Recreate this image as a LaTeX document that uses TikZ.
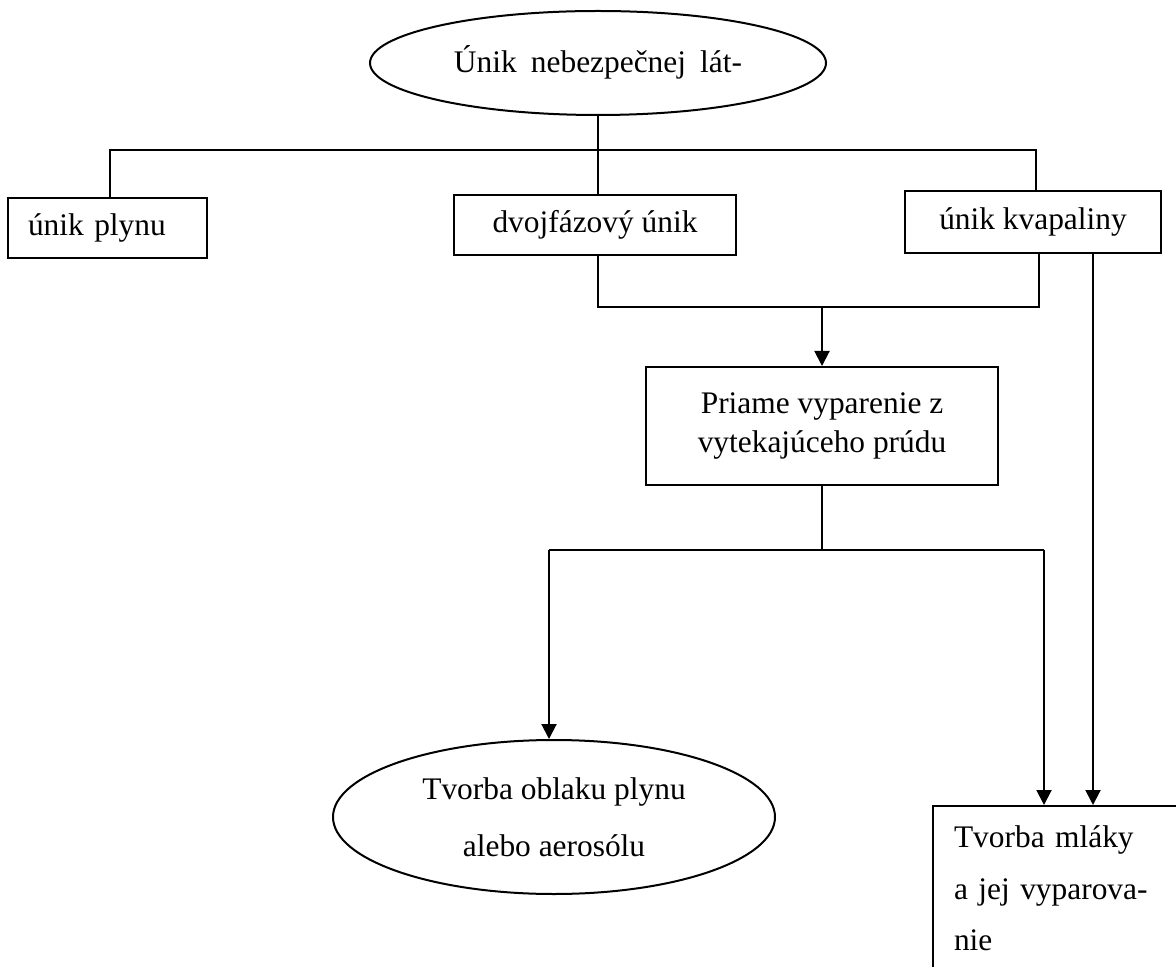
\documentclass[tikz,border=0pt]{standalone}
\usepackage{fontspec}
\setmainfont{Liberation Serif}
\usetikzlibrary{shapes.geometric,arrows.meta}

\newcommand\diafont[1]{\fontsize{15.7pt}{#1}\selectfont}

\tikzset{
  box/.style={draw, rectangle, line width=1pt, inner sep=0pt, align=center,
    font=\diafont{21pt}},
  oval/.style={draw, ellipse, line width=1pt, inner sep=-40pt, align=center,
    font=\diafont{21pt}},
  conn/.style={line width=1pt},
  arr/.style={line width=1pt, -{Triangle[width=7.5pt,length=7.5pt]}}
}

\begin{document}
\begin{tikzpicture}[x=0.5pt,y=-0.5pt]
  \useasboundingbox (0,0) rectangle (1176,967);

  % top level
  \node[oval, minimum width=228pt, minimum height=52pt] (unik) at (598,63)
    {\raisebox{4pt}{Únik\hspace{0.2em} nebezpečnej\hspace{0.2em} lát-}};

  % kinds of release
  \node[box, minimum width=99.5pt, minimum height=30pt, text width=79.5pt, align=left]
    (plyn) at (107.5,228) {únik plynu};
  \node[box, minimum width=141pt, minimum height=30pt] (dvoj) at (595,225) {dvojfázový únik};
  \node[box, minimum width=128pt, minimum height=31pt] (kvap) at (1033,222) {únik kvapaliny};

  \node[box, minimum width=176pt, minimum height=59pt, font=\diafont{19.5pt}] (prim) at (822,426)
    {Priame vyparenie z\\vytekajúceho prúdu};

  % results
  \node[oval, minimum width=221pt, minimum height=77pt, font=\diafont{28.5pt}] (oblak) at (554,817)
    {Tvorba oblaku plynu\\alebo aerosólu};
  \node[box, anchor=north west, minimum width=150pt, minimum height=82.5pt,
    text width=129pt, align=left, font=\diafont{25.75pt}] (mlaka) at (932,805)
    {Tvorba mláky\\a jej vyparova-\\nie};

  % connectors
  \coordinate (b1) at (110,150);
  \coordinate (b2) at (1036,150);
  \draw[conn] (unik.south) -- (unik.south |- dvoj.north);
  \draw[conn] (plyn.north -| b1) -- (b1) -- (b2) -- (b2 |- kvap.north);

  \coordinate (c1) at (598,307);
  \coordinate (c2) at (1039,307);
  \draw[conn] (c1 |- dvoj.south) -- (c1) -- (c2) -- (c2 |- kvap.south);
  \draw[arr] (prim.north |- c1) -- (prim.north);

  \coordinate (d1) at (549,550);
  \coordinate (d2) at (1044,550);
  \coordinate (e1) at (1093,0);
  \draw[conn] (prim.south) -- (prim.south |- d1);
  \draw[conn] (d1) -- (d2);
  \draw[arr] (d1) -- (d1 |- oblak.north);
  \draw[arr] (d2) -- (d2 |- mlaka.north);
  \draw[arr] (e1 |- kvap.south) -- (e1 |- mlaka.north);
\end{tikzpicture}
\end{document}
